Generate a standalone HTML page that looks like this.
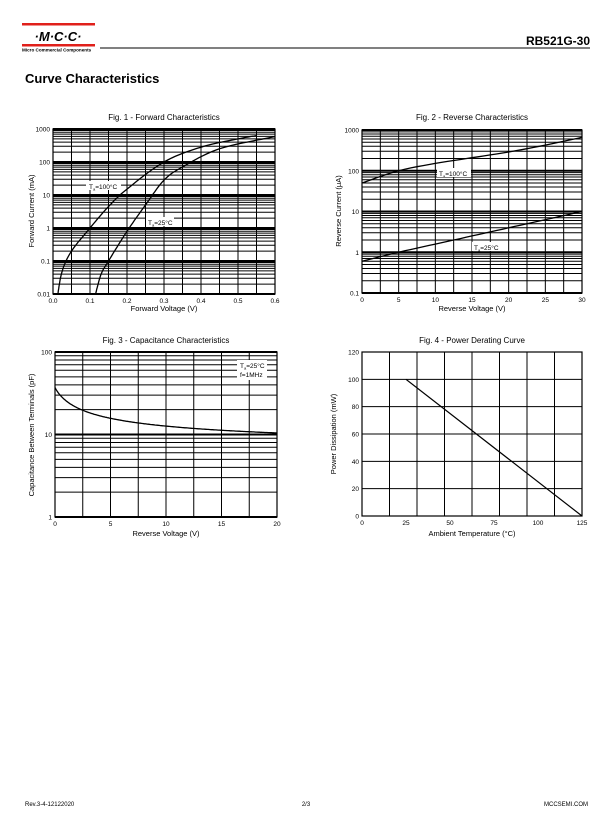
<!DOCTYPE html>
<html><head><meta charset="utf-8"><style>
html,body{margin:0;padding:0;background:#fff}
svg{display:block}
text{font-family:"Liberation Sans",Arial,sans-serif;fill:#000}
</style></head><body>
<svg id="s" width="612" height="825" viewBox="0 0 612 825" xmlns="http://www.w3.org/2000/svg">
<rect x="22" y="23" width="73" height="2.5" fill="#e0201b"/>
<rect x="22" y="44" width="73" height="2.5" fill="#e0201b"/>
<text x="58" y="41" font-size="13" font-weight="bold" font-style="italic" text-anchor="middle" fill="#000">·M·C·C·</text>
<text x="22" y="51.5" font-size="4.6" font-weight="bold">Micro Commercial Components</text>
<line x1="100" y1="48" x2="590" y2="48" stroke="#000" stroke-width="1"/>
<text x="590" y="45" font-size="12" font-weight="bold" text-anchor="end">RB521G-30</text>
<text x="25" y="83" font-size="13" font-weight="bold">Curve Characteristics</text>

<text x="164" y="120" font-size="8" text-anchor="middle">Fig. 1 - Forward Characteristics</text>
<text x="164" y="311" font-size="7.5" text-anchor="middle">Forward Voltage (V)</text>
<text transform="translate(34,211) rotate(-90)" font-size="7.5" text-anchor="middle">Forward Current (mA)</text>

<text x="472" y="120" font-size="8" text-anchor="middle">Fig. 2 - Reverse Characteristics</text>
<text x="472" y="311" font-size="7.5" text-anchor="middle">Reverse Voltage (V)</text>
<text transform="translate(341,211) rotate(-90)" font-size="7.5" text-anchor="middle">Reverse Current (μA)</text>

<text x="166" y="343" font-size="8" text-anchor="middle">Fig. 3 - Capacitance Characteristics</text>
<text x="166" y="536" font-size="7.5" text-anchor="middle">Reverse Voltage (V)</text>
<text transform="translate(34,435) rotate(-90)" font-size="7.5" text-anchor="middle">Capacitance Between Terminals (pF)</text>

<text x="472" y="343" font-size="8" text-anchor="middle">Fig. 4 - Power Derating Curve</text>
<text x="472" y="536" font-size="7.5" text-anchor="middle">Ambient Temperature (°C)</text>
<text transform="translate(336,434) rotate(-90)" font-size="7.5" text-anchor="middle">Power Dissipation (mW)</text>

<text x="25" y="806" font-size="6">Rev.3-4-12122020</text>
<text x="306" y="806" font-size="6" text-anchor="middle">2/3</text>
<text x="588" y="806" font-size="6" text-anchor="end">MCCSEMI.COM</text>
<g id="g"></g>
<g id="t" font-size="6.5"></g>
</svg>
<script>
var g=document.getElementById('g'),T=document.getElementById('t'),NS='http://www.w3.org/2000/svg';
function el(n,a,p){var e=document.createElementNS(NS,n);for(var k in a)e.setAttribute(k,a[k]);(p||g).appendChild(e);return e;}
function ln(x1,y1,x2,y2,w){el('line',{x1:x1,y1:y1,x2:x2,y2:y2,stroke:'#000','stroke-width':w});}
function tx(x,y,s,anc){var e=el('text',{x:x,y:y,'text-anchor':anc||'middle'},T);e.textContent=s;}
function chart(c){
 var L=c.l,R=c.r,Tp=c.t,B=c.b;
 // vertical grid
 for(var i=0;i<=c.nx;i++){var x=L+(R-L)*i/c.nx;ln(x,Tp,x,B,1);}
 if(c.log){var d=c.dec,h=(B-Tp)/d;
  for(var k=0;k<d;k++){var yb=B-k*h;
   for(var m=2;m<=9;m++){var y=yb-Math.log10(m)*h;ln(L,y,R,y,1);}
   ln(L,yb,R,yb,2);}
  ln(L,Tp,R,Tp,2);
 } else {for(var i=0;i<=c.ny;i++){var y=B-(B-Tp)*i/c.ny;ln(L,y,R,y,1);}}
 el('rect',{x:L,y:Tp,width:R-L,height:B-Tp,fill:'none',stroke:'#000','stroke-width':1.2});
 c.xl.forEach(function(s,i){tx(L+(R-L)*i/(c.xl.length-1),B+9,s);});
 c.yl.forEach(function(s,i){tx(L-3,B-(B-Tp)*i/(c.yl.length-1)+2.5,s,'end');});
}
function curve(pts,map){
 var d='';pts.forEach(function(p,i){var q=map(p[0],p[1]);d+=(i?'L':'M')+q[0].toFixed(1)+' '+q[1].toFixed(1);});
 el('path',{d:d,fill:'none',stroke:'#000','stroke-width':1.3});
}
function spline(pts,n){ // simple interpolation in (x, log) using Catmull-Rom
 var out=[];for(var i=0;i<pts.length-1;i++){var p0=pts[Math.max(0,i-1)],p1=pts[i],p2=pts[i+1],p3=pts[Math.min(pts.length-1,i+2)];
  for(var t=0;t<1;t+=1/n){var t2=t*t,t3=t2*t;
   var f=function(a,b,c,d){return 0.5*(2*b+(-a+c)*t+(2*a-5*b+4*c-d)*t2+(-a+3*b-3*c+d)*t3);};
   out.push([f(p0[0],p1[0],p2[0],p3[0]),f(p0[1],p1[1],p2[1],p3[1])]);}}
 out.push(pts[pts.length-1]);return out;}
// Fig1
chart({l:53,r:275,t:129,b:294,nx:12,log:1,dec:5,xl:['0.0','0.1','0.2','0.3','0.4','0.5','0.6'],yl:['0.01','0.1','1','10','100','1000']});
var m1=function(v,lg){return [53+v/0.6*222,294-(lg+2)*33];};
curve(spline([[0.013,-2],[0.025,-1.3],[0.05,-0.7],[0.1,0],[0.15,0.65],[0.2,1.18],[0.3,2],[0.4,2.45],[0.5,2.7],[0.55,2.8]],10),m1);
curve(spline([[0.115,-2],[0.13,-1.4],[0.15,-1],[0.2,-0.1],[0.25,0.7],[0.3,1.45],[0.35,1.85],[0.45,2.4],[0.6,2.77]],10),m1);
el('rect',{x:86,y:181,width:35,height:9,fill:'#fff'});
el('rect',{x:146,y:217,width:28,height:9,fill:'#fff'});
// Fig2
chart({l:362,r:582,t:130,b:293,nx:12,log:1,dec:4,xl:['0','5','10','15','20','25','30'],yl:['0.1','1','10','100','1000']});
var m2=function(v,lg){return [362+v/30*220,293-(lg+1)*40.75];};
curve(spline([[0,1.7],[5,2.0],[10,2.18],[15,2.32],[20,2.46],[25,2.63],[30,2.82]],6),m2);
curve(spline([[0,-0.22],[5,0.0],[10,0.2],[15,0.4],[20,0.6],[25,0.8],[30,1.0]],6),m2);
el('rect',{x:437,y:168,width:34,height:9,fill:'#fff'});
el('rect',{x:472,y:242,width:30,height:9,fill:'#fff'});
// Fig3
chart({l:55,r:277,t:352,b:517,nx:8,log:1,dec:2,xl:['0','5','10','15','20'],yl:['1','10','100']});
var m3=function(v,c){return [55+v/20*222,517-Math.log10(c)*82.5];};
var p3=[];for(var v=0;v<=20.001;v+=0.1){p3.push([v,6.0+31/Math.pow(1+v*1.1,0.62)-v*0.0]);}
curve(p3.map(function(p){return [p[0],Math.max(p[1],0)]}),m3);
el('rect',{x:237,y:360,width:30,height:20,fill:'#fff'});
// Fig4
chart({l:362,r:582,t:352,b:516,nx:8,log:0,ny:6,xl:['0','','25','','50','','75','','100','','125'].filter(function(s){return s!==''}),yl:['0','20','40','60','80','100','120']});
ln(362+25/125*220,516-100/120*164,582,516,1.2);
</script>
<script>
// fix fig4 x labels to sit at every 25 (0..125 over 220px)
</script>
<svg style="position:absolute;left:0;top:0" width="612" height="825"><g font-size="6.5" font-family="Liberation Sans, Arial, sans-serif">
<text x="89" y="189" font-size="6.5">T<tspan font-size="4" dy="1.5">a</tspan><tspan dy="-1.5">=100°C</tspan></text>
<text x="148" y="225" font-size="6.5">T<tspan font-size="4" dy="1.5">a</tspan><tspan dy="-1.5">=25°C</tspan></text>
<text x="439" y="176" font-size="6.5">T<tspan font-size="4" dy="1.5">a</tspan><tspan dy="-1.5">=100°C</tspan></text>
<text x="474" y="250" font-size="6.5">T<tspan font-size="4" dy="1.5">a</tspan><tspan dy="-1.5">=25°C</tspan></text>
<text x="240" y="368" font-size="6.5">T<tspan font-size="4" dy="1.5">a</tspan><tspan dy="-1.5">=25°C</tspan></text>
<text x="240" y="377" font-size="6.5">f=1MHz</text>
</g></svg>
</body></html>
